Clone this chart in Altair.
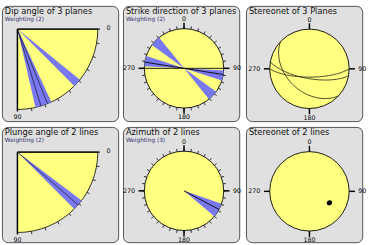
import math
import altair as alt
import pandas as pd

# ---------------- data ----------------
titles = ["Dip angle of 3 planes", "Strike direction of 3 planes", "Stereonet of 3 Planes",
          "Plunge angle of 2 lines", "Azimuth of 2 lines", "Stereonet of 2 lines"]
subtitles = ["Weighting (2)", "Weighting (2)", "", "Weighting (2)", "Weighting (3)", ""]

dip_wedge_from = [39, 65]
dip_wedge_to = [45, 77]
dip_line_values = [68, 73]

strike_wedge_from = [126, 93]
strike_wedge_to = [141, 108]
strike_line_values = [90, 99]

plane_strikes = [133, 100, 90]
plane_dips = [42, 70, 73]

plunge_wedge_from = [37]
plunge_wedge_to = [45]
plunge_line_values = [41]

azimuth_wedge_from = [109]
azimuth_wedge_to = [130]
azimuth_line_values = [118]

line_trends = [119, 121]
line_plunges = [41, 42]

compass_labels = ["0", "90", "180", "270"]
compass_label_angles = [0, 90, 180, 270]
quarter_labels = ["0", "90"]
quarter_label_angles = [0, 90]
minor_tick_angles = list(range(0, 360, 10))
quarter_tick_angles = list(range(10, 90, 10))

# ---------------- style ----------------
YELLOW = "#ffff80"
BLUE = "#7878f0"
PANEL = "#e0e0e0"
FONT = "DejaVu Sans"
PW, PH = 120, 119
QR = 83
CR = 41


def xs():
    return alt.Scale(domain=[0, PW], nice=False, zero=False)


def ys():
    return alt.Scale(domain=[0, PH], nice=False, zero=False, reverse=True)


def X(f):
    return alt.X(f"{f}:Q", scale=xs(), axis=None)


def Y(f):
    return alt.Y(f"{f}:Q", scale=ys(), axis=None)


THETA_SCALE = alt.Scale(domain=[0, 360], range=[0, 2 * math.pi])


def wedge_layer(df, cx, cy, r, color, stroke=None, sw=0):
    kw = {}
    if stroke:
        kw = dict(stroke=stroke, strokeWidth=sw)
    return alt.Chart(df).mark_arc(radius=r, radius2=0, fill=color, **kw).encode(
        x=alt.value(cx), y=alt.value(cy),
        theta=alt.Theta("a0:Q", scale=THETA_SCALE, stack=None),
        theta2=alt.Theta2("a1:Q"),
    )


def radial_rules(df, cx, cy, r0, r1, color="#000000", sw=1.0):
    return alt.Chart(df).transform_calculate(
        xa=f"{cx} + {r0} * sin(datum.a * PI / 180)",
        ya=f"{cy} - {r0} * cos(datum.a * PI / 180)",
        xb=f"{cx} + {r1} * sin(datum.a * PI / 180)",
        yb=f"{cy} - {r1} * cos(datum.a * PI / 180)",
    ).mark_rule(color=color, strokeWidth=sw).encode(
        x=X("xa"), y=Y("ya"), x2=alt.X2("xb:Q"), y2=alt.Y2("yb:Q")
    )


def title_layers(i):
    layers = [alt.Chart(pd.DataFrame({"t": [titles[i]]})).mark_text(
        align="left", baseline="alphabetic", font=FONT, fontSize=8.5, color="#101010"
    ).encode(x=alt.value(3), y=alt.value(8.5), text="t:N")]
    if subtitles[i]:
        layers.append(alt.Chart(pd.DataFrame({"t": [subtitles[i]]})).mark_text(
            align="left", baseline="alphabetic", font=FONT, fontSize=6, color="#303070"
        ).encode(x=alt.value(3), y=alt.value(16), text="t:N"))
    return layers


def compass_labels_layer(cx, cy, r):
    df = pd.DataFrame({"a": compass_label_angles, "label": compass_labels})
    return alt.Chart(df).transform_calculate(
        off=f"{r} + 9.5 + abs(sin(datum.a * PI / 180)) * (2.3 * length(datum.label) - 0.5)",
        lx=f"{cx} + datum.off * sin(datum.a * PI / 180)",
        ly=f"{cy} - datum.off * cos(datum.a * PI / 180)",
    ).mark_text(font=FONT, fontSize=6.5, color="#000000", baseline="middle", align="center").encode(
        x=X("lx"), y=Y("ly"), text="label:N"
    )


def quarter_panel(i, cx, cy, wf, wt, lines):
    full = pd.DataFrame({"a0": [90], "a1": [180]})
    wd = pd.DataFrame({"d0": wf, "d1": wt}).assign(a0=lambda d: 90 + d.d0, a1=lambda d: 90 + d.d1)
    ld = pd.DataFrame({"a": [90 + v for v in lines]})
    ticks = pd.DataFrame({"a": [90 + v for v in quarter_tick_angles]})
    edges = pd.DataFrame({"a": [90 + v for v in quarter_label_angles]})
    lab = pd.DataFrame({"a": [90 + v for v in quarter_label_angles], "label": quarter_labels})
    labels = alt.Chart(lab).transform_calculate(
        lx=f"datum.a == 90 ? {cx + QR + 11} : {cx}",
        ly=f"datum.a == 90 ? {cy - 1} : {cy + QR + 8}",
    ).mark_text(font=FONT, fontSize=6.5, color="#000000", baseline="middle", align="center").encode(
        x=X("lx"), y=Y("ly"), text="label:N")
    layers = [
        wedge_layer(full, cx, cy, QR, YELLOW, stroke="#000000", sw=0.8),
        wedge_layer(wd, cx, cy, QR, BLUE),
        radial_rules(ld, cx, cy, 0, QR, color="#202040", sw=0.8),
        radial_rules(ticks, cx, cy, QR, QR + 3, sw=0.8),
        radial_rules(edges, cx, cy, 0, QR + 2, sw=1.5),
        labels,
    ] + title_layers(i)
    return alt.layer(*layers).properties(width=PW, height=PH)


def circle_base(cx, cy, minor=True):
    full = pd.DataFrame({"a0": [0], "a1": [360]})
    layers = [wedge_layer(full, cx, cy, CR, YELLOW, stroke="#000000", sw=0.9)]
    if minor:
        layers.append(radial_rules(pd.DataFrame({"a": minor_tick_angles}), cx, cy, CR, CR + 3, sw=0.8))
    layers.append(radial_rules(pd.DataFrame({"a": compass_label_angles}), cx, cy, CR, CR + 6, sw=1.5))
    layers.append(compass_labels_layer(cx, cy, CR))
    return layers


def rose_panel(i, cx, cy, wf, wt, lines, bidirectional):
    rows = list(zip(wf, wt))
    if bidirectional:
        rows = rows + [(a + 180, b + 180) for a, b in rows]
    wd = pd.DataFrame(rows, columns=["a0", "a1"])
    lv = list(lines)
    if bidirectional:
        lv = lv + [v + 180 for v in lv]
    ld = pd.DataFrame({"a": lv})
    layers = circle_base(cx, cy)
    layers.insert(1, wedge_layer(wd, cx, cy, CR, BLUE))
    layers.insert(2, radial_rules(ld, cx, cy, 0, CR, color="#000000", sw=0.9))
    layers += title_layers(i)
    return alt.layer(*layers).properties(width=PW, height=PH)


def planes_panel(i, cx, cy):
    df = pd.DataFrame({"plane": list(range(len(plane_strikes))), "s": plane_strikes, "d": plane_dips})
    gc = alt.Chart(df).transform_calculate(
        t="sequence(0, 181, 3)"
    ).transform_flatten(["t"]).transform_calculate(
        e="cos(datum.t*PI/180)*sin(datum.s*PI/180) + sin(datum.t*PI/180)*cos(datum.d*PI/180)*cos(datum.s*PI/180)",
        n="cos(datum.t*PI/180)*cos(datum.s*PI/180) - sin(datum.t*PI/180)*cos(datum.d*PI/180)*sin(datum.s*PI/180)",
        dn="sin(datum.t*PI/180)*sin(datum.d*PI/180)",
    ).transform_calculate(
        gx=f"{cx} + {CR} * datum.e / sqrt(1 + datum.dn)",
        gy=f"{cy} - {CR} * datum.n / sqrt(1 + datum.dn)",
    ).mark_line(color="#303020", strokeWidth=0.9).encode(
        x=X("gx"), y=Y("gy"), detail="plane:N", order="t:Q"
    )
    layers = circle_base(cx, cy, minor=False) + [gc] + title_layers(i)
    return alt.layer(*layers).properties(width=PW, height=PH)


def lines_panel(i, cx, cy):
    df = pd.DataFrame({"tr": line_trends, "pl": line_plunges})
    pts = alt.Chart(df).transform_calculate(
        rr=f"{CR} * sqrt(1 - sin(datum.pl * PI / 180))",
    ).transform_calculate(
        gx=f"{cx} + datum.rr * sin(datum.tr * PI / 180)",
        gy=f"{cy} - datum.rr * cos(datum.tr * PI / 180)",
    ).mark_circle(color="#000000", opacity=1, size=24).encode(x=X("gx"), y=Y("gy"))
    layers = circle_base(cx, cy, minor=False) + [pts] + title_layers(i)
    return alt.layer(*layers).properties(width=PW, height=PH)


p1 = quarter_panel(0, 16, 24, dip_wedge_from, dip_wedge_to, dip_line_values)
p2 = rose_panel(1, 63, 64.5, strike_wedge_from, strike_wedge_to, strike_line_values, True)
p3 = planes_panel(2, 65.5, 65)
p4 = quarter_panel(3, 16, 26, plunge_wedge_from, plunge_wedge_to, plunge_line_values)
p5 = rose_panel(4, 63, 66, azimuth_wedge_from, azimuth_wedge_to, azimuth_line_values, False)
p6 = lines_panel(5, 65.5, 66.5)

chart = alt.vconcat(
    alt.hconcat(p1, p2, p3, spacing=3),
    alt.hconcat(p4, p5, p6, spacing=3),
    spacing=4,
).properties(
    padding={"left": 1, "top": 1, "right": 2, "bottom": 2},
    background="#ffffff",
).configure_view(
    fill=PANEL, stroke="#505050", strokeWidth=1, cornerRadius=6
)

chart.save("out.html", embed_options={"renderer": "svg", "actions": False})
